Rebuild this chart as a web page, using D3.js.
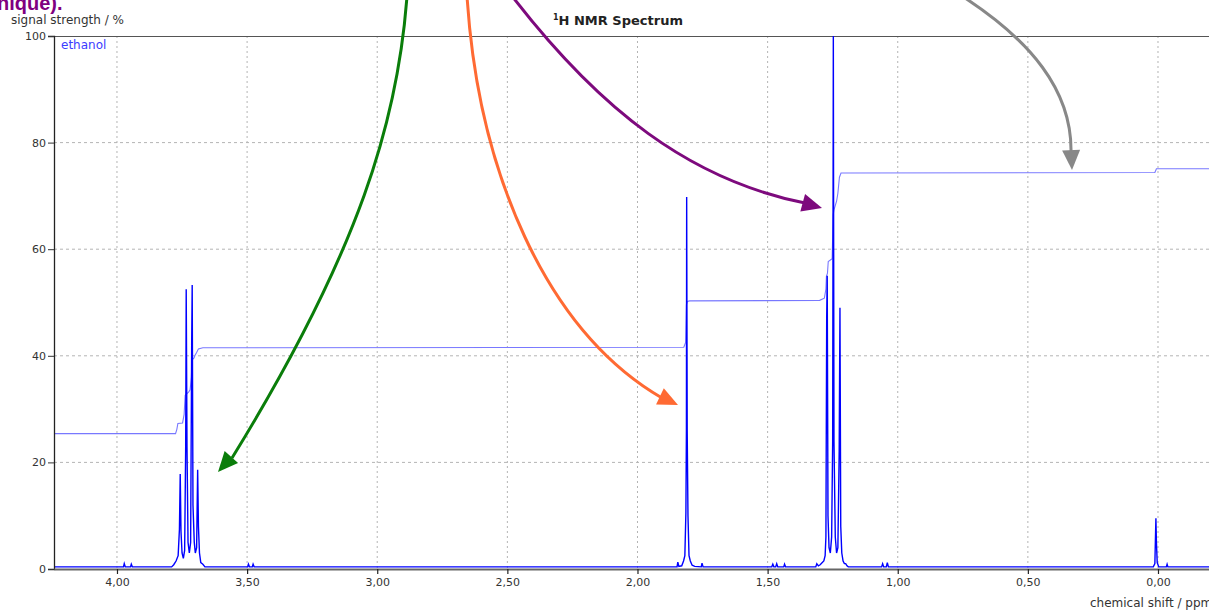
<!DOCTYPE html>
<html><head><meta charset="utf-8">
<script src="https://cdn.jsdelivr.net/npm/d3@7"></script>
<style>
html,body{margin:0;padding:0;background:#fff;overflow:hidden;}
svg{display:block;font-family:"DejaVu Sans",Verdana,sans-serif;}
</style></head>
<body>
<svg id="chart" width="1209" height="610"></svg>
<script>
// ---------- data ----------
const title = "H NMR Spectrum";
const seriesName = "ethanol";
const xTicks = [4.0, 3.5, 3.0, 2.5, 2.0, 1.5, 1.0, 0.5, 0.0];
const xTickLabels = ["4,00","3,50","3,00","2,50","2,00","1,50","1,00","0,50","0,00"];
const yTicks = [0, 20, 40, 60, 80, 100];
const yTickLabels = ["0","20","40","60","80","100"];
const xDomain = [4.242, -0.196];

// spectrum: [chemical shift (ppm), signal strength (%)]
const spectrum = [
  [4.242,0.4],[3.975,0.4],[3.972,1.0],[3.968,0.4],[3.948,0.4],[3.945,0.9],[3.941,0.4],
  [3.790,0.4],[3.782,0.8],[3.773,1.5],[3.765,2.5],[3.760,7.5],[3.757,17.8],[3.754,7],[3.750,3],
  [3.745,2],[3.740,3.5],[3.736,23],[3.734,52.5],[3.731,23],[3.727,5],[3.722,3],[3.717,5],
  [3.713,42],[3.711,53.3],[3.708,12],[3.703,5],[3.699,3],[3.694,4],[3.690,18.6],[3.687,8],
  [3.683,3],[3.678,1.2],[3.670,0.9],[3.662,0.4],
  [3.498,0.4],[3.495,0.9],[3.491,0.4],[3.480,0.4],[3.477,0.9],[3.473,0.4],
  [1.848,0.4],[1.845,1.3],[1.841,0.5],[1.830,0.6],[1.823,1.5],[1.818,2.5],[1.814,10.5],
  [1.812,26],[1.811,69.8],[1.809,26],[1.806,10],[1.802,2.5],[1.797,1.5],[1.790,0.7],
  [1.780,0.5],[1.755,0.4],[1.752,1.1],[1.748,0.4],
  [1.484,0.4],[1.480,0.9],[1.476,0.4],[1.469,0.4],[1.465,1.0],[1.461,0.4],[1.438,0.4],[1.435,0.9],[1.431,0.4],
  [1.315,0.4],[1.311,1.0],[1.305,0.6],[1.298,0.8],[1.290,1.2],[1.284,1.5],[1.279,2.5],[1.276,6],
  [1.273,47],[1.271,55],[1.268,10],[1.264,4],[1.259,3],[1.254,6],[1.250,24],[1.2475,100],
  [1.245,24],[1.240,6],[1.235,3],[1.230,4],[1.225,22],[1.222,49],[1.219,8],[1.215,3],
  [1.210,1.5],[1.205,1.0],[1.200,1.0],[1.195,0.6],[1.190,0.4],
  [1.062,0.4],[1.058,1.0],[1.054,0.4],[1.044,0.4],[1.040,1.2],[1.036,0.4],
  [0.018,0.4],[0.012,1.0],[0.008,9.5],[0.006,5],[0.003,1.2],[-0.003,0.4],
  [-0.032,0.4],[-0.035,0.9],[-0.038,0.4],[-0.196,0.4]
];

// integral curve: [chemical shift (ppm), value (%)]
const integral = [
  [4.242,25.4],[3.775,25.4],[3.770,26.2],[3.766,27.3],[3.748,27.4],[3.742,29],[3.738,32.6],
  [3.725,33.2],[3.719,33.6],[3.714,36],[3.712,39.2],[3.704,39.6],[3.700,40.1],[3.694,40.6],
  [3.687,41.3],[3.670,41.5],[1.822,41.6],[1.815,42.5],[1.812,49.6],[1.808,50.2],
  [1.800,50.3],[1.300,50.4],[1.282,50.8],[1.276,52.5],[1.274,54.9],[1.270,55.5],
  [1.267,57.7],[1.252,58.2],[1.248,66.5],[1.245,67.4],[1.235,69],[1.230,70.5],
  [1.224,73.5],[1.218,74.3],[1.200,74.3],[0.012,74.4],[0.006,75.1],[-0.196,75.1]
];

// ---------- chart ----------
const mL = 54, mR = 1209, mT = 36, mB = 569;
const svg = d3.select("#chart");
const x = d3.scaleLinear().domain(xDomain).range([mL, mR]);
const y = d3.scaleLinear().domain([0, 100]).range([mB, mT]);
const FONT = "'DejaVu Sans',Verdana,sans-serif";

const defs = svg.append("defs");
defs.append("clipPath").attr("id","plotclip")
  .append("rect").attr("x", mL).attr("y", mT - 1).attr("width", mR - mL).attr("height", mB - mT + 1);

// grid
const grid = svg.append("g");
grid.selectAll("line.vg").data(xTicks).enter().append("line")
  .attr("x1", d => x(d)).attr("x2", d => x(d)).attr("y1", mT).attr("y2", mB)
  .attr("stroke", "#b4b4b4").attr("stroke-width", 1).attr("stroke-dasharray", "2,3");
grid.selectAll("line.hg").data(yTicks.filter(v => v > 0 && v < 100)).enter().append("line")
  .attr("x1", mL).attr("x2", mR).attr("y1", d => y(d)).attr("y2", d => y(d))
  .attr("stroke", "#b4b4b4").attr("stroke-width", 1).attr("stroke-dasharray", "3,3");

// top border
svg.append("line").attr("x1", mL).attr("x2", mR).attr("y1", mT + 0.5).attr("y2", mT + 0.5)
  .attr("stroke", "#555").attr("stroke-width", 1.2);

// curves
const line = d3.line().x(d => x(d[0])).y(d => y(d[1]));
const plot = svg.append("g").attr("clip-path", "url(#plotclip)");
plot.append("path").datum(integral).attr("d", line)
  .attr("fill", "none").attr("stroke", "#7878ff").attr("stroke-width", 1.1);
plot.append("path").datum(spectrum).attr("d", line)
  .attr("fill", "none").attr("stroke", "#0000ff").attr("stroke-width", 1.4);

// axes
const yAxis = d3.axisLeft(y).tickValues(yTicks).tickFormat((d,i) => yTickLabels[i]).tickSize(6).tickPadding(2);
const gy = svg.append("g").attr("transform", `translate(${mL},0)`).call(yAxis);
gy.select(".domain").attr("stroke", "#222").attr("stroke-width", 1.3);
gy.selectAll(".tick line").attr("stroke", "#333");
gy.selectAll(".tick text").attr("fill", "#333").style("font-size", "11px").style("font-family", FONT);

const xAxis = d3.axisBottom(x).tickValues(xTicks).tickFormat((d,i) => xTickLabels[i]).tickSize(5).tickSizeOuter(0).tickPadding(4);
const gx = svg.append("g").attr("transform", `translate(0,${mB})`).call(xAxis);
gx.select(".domain").attr("stroke", "#666").attr("stroke-width", 2.2);
gx.selectAll(".tick line").attr("stroke", "#222").attr("stroke-width", 1.2);
gx.selectAll(".tick text").attr("fill", "#333").style("font-size", "11px").style("font-family", FONT);

// labels
svg.append("text").attr("x", 11).attr("y", 24).attr("fill", "#333")
  .style("font-size", "12px").text("signal strength / %");
svg.append("text").attr("x", 1090).attr("y", 607).attr("fill", "#333")
  .style("font-size", "12px").text("chemical shift / ppm");
const t = svg.append("text").attr("x", 553).attr("y", 25).attr("fill", "#222")
  .style("font-size", "13px").style("font-weight", "bold");
t.append("tspan").attr("dy", "-5").style("font-size", "8px").text("1");
t.append("tspan").attr("dy", "5").text(title);
svg.append("text").attr("x", 61).attr("y", 49).attr("fill", "#3c3cff")
  .style("font-size", "12px").text(seriesName);

// annotation arrows (overlay from source image)
const arrows = [
  {c:"#0a7d0a", d:"M407,-4 C398,120 360,250 232,458", tip:[218,472]},
  {c:"#ff6a33", d:"M467,-4 C478,170 545,330 662,398", tip:[678,405]},
  {c:"#7d0a7d", d:"M512,-4 C600,110 690,180 805,203", tip:[822,208]},
  {c:"#888888", d:"M962,-4 C1030,40 1072,90 1071,152", tip:[1072,170]}
];
arrows.forEach(a => {
  const g = svg.append("g");
  const p = g.append("path").attr("d", a.d).attr("fill", "none").attr("stroke", a.c).attr("stroke-width", 3).node();
  const L = p.getTotalLength();
  const s = p.getPointAtLength(L - 6);
  const ang = Math.atan2(a.tip[1] - s.y, a.tip[0] - s.x);
  const len = 20, wd = 9;
  const bx = a.tip[0] - len * Math.cos(ang), by = a.tip[1] - len * Math.sin(ang);
  const px = -Math.sin(ang) * wd, py = Math.cos(ang) * wd;
  g.append("path").attr("d", `M${a.tip[0]},${a.tip[1]} L${bx+px},${by+py} L${bx-px},${by-py} Z`).attr("fill", a.c);
});

svg.append("text").attr("x", -3).attr("y", 10).attr("fill", "#800080")
  .style("font-family", "'Liberation Sans',Arial,sans-serif")
  .style("font-size", "20px").style("font-weight", "bold").text("nique).");
</script>
</body></html>
